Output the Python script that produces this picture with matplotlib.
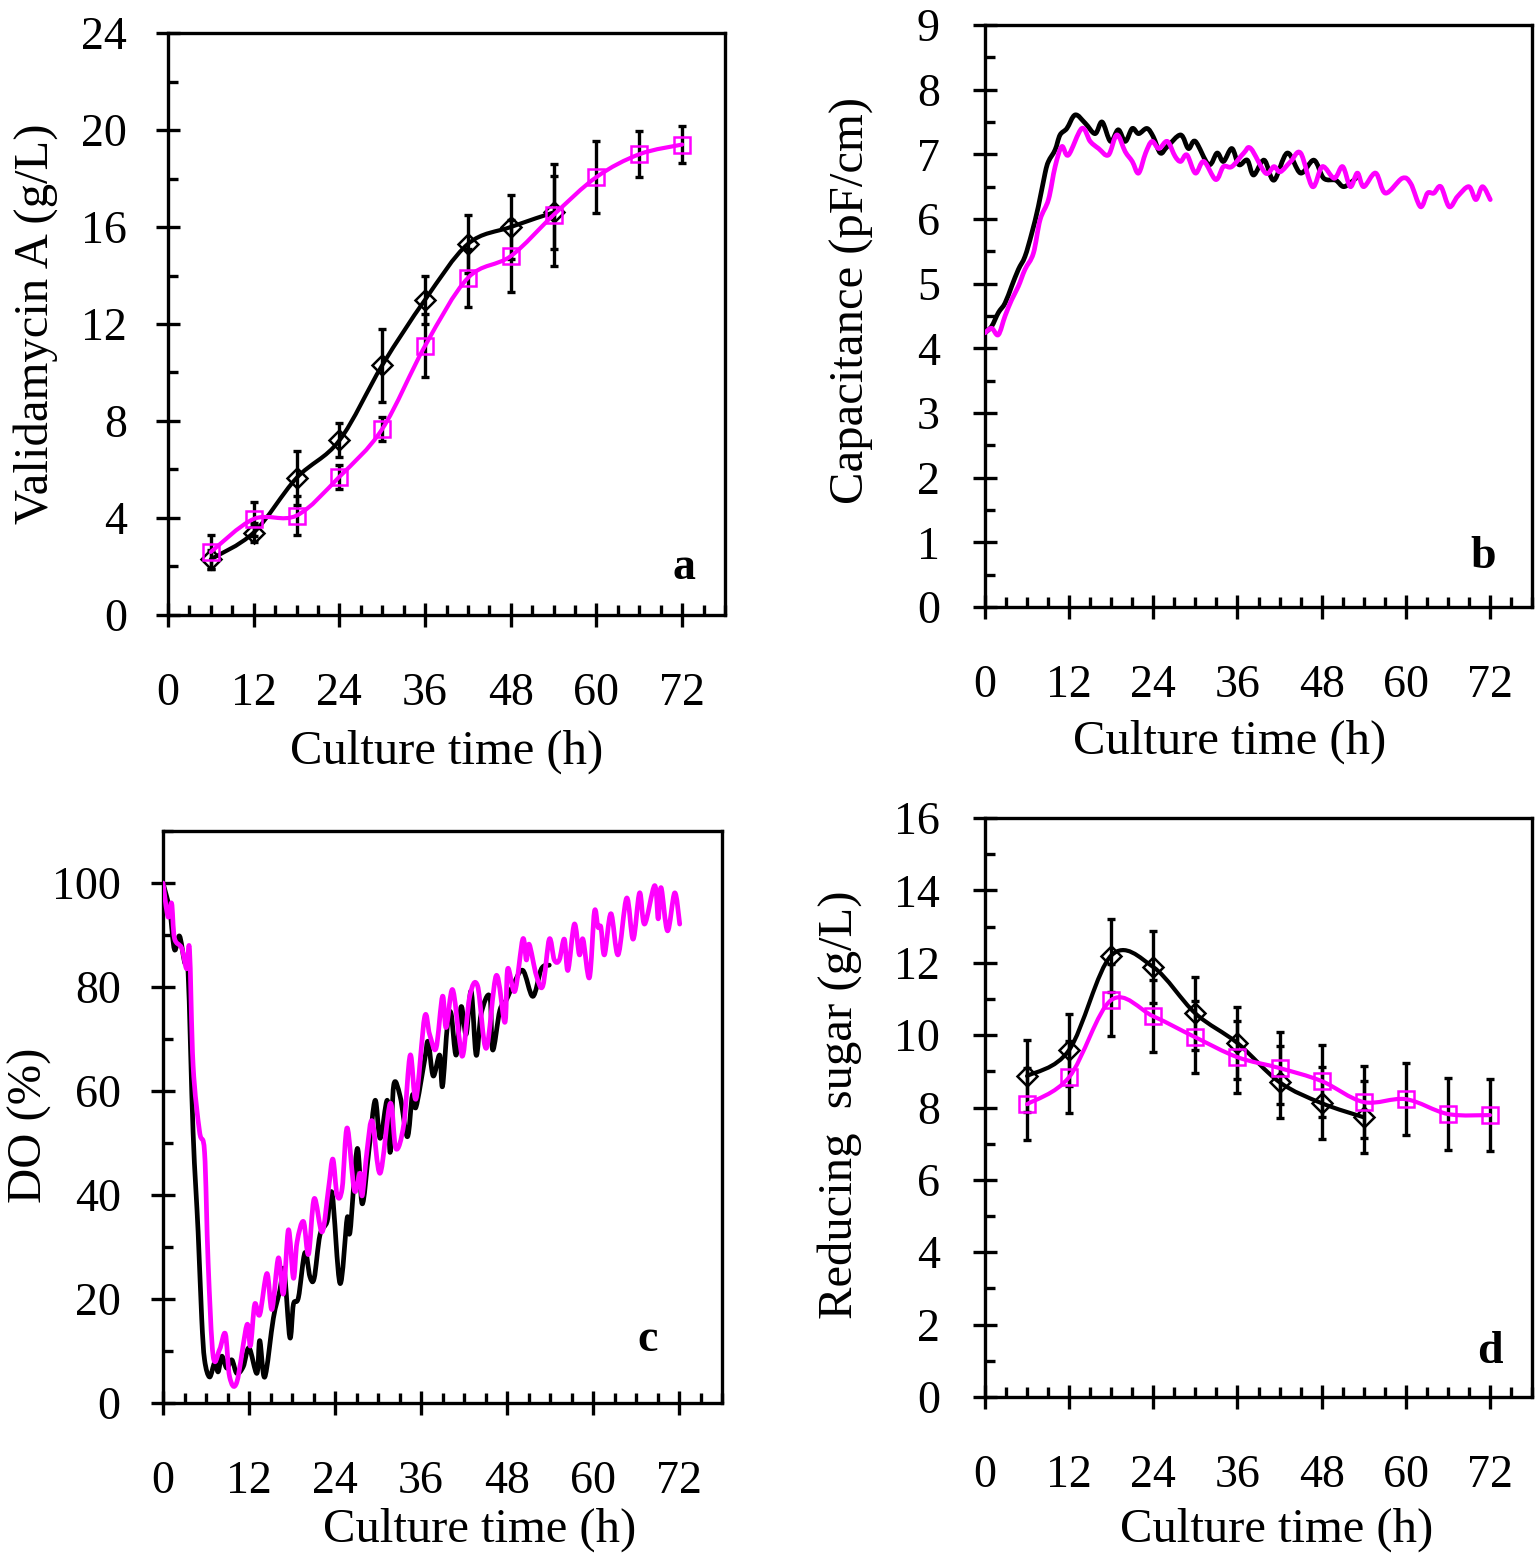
import numpy as np
import matplotlib
matplotlib.use("Agg")
import matplotlib.pyplot as plt
from matplotlib.path import Path
from matplotlib.patches import PathPatch
from matplotlib.ticker import MultipleLocator

plt.rcParams['font.family'] = ['Liberation Serif', 'DejaVu Serif']
plt.rcParams['mathtext.fontset'] = 'stix'

BLACK = '#000000'
MAGENTA = '#FF00FF'

# ---------------- Panel a: Validamycin A ----------------
a_t_black = [6, 12, 18, 24, 30, 36, 42, 48, 54]
a_black = [2.3, 3.4, 5.65, 7.2, 10.3, 13.0, 15.3, 16.0, 16.6]
a_black_err = [0.4, 0.4, 1.1, 0.7, 1.5, 1.0, 1.2, 1.3, 1.5]
a_t_mag = [6, 12, 18, 24, 30, 36, 42, 48, 54, 60, 66, 72]
a_mag = [2.6, 3.96, 4.1, 5.7, 7.67, 11.1, 13.9, 14.8, 16.5, 18.06, 19.0, 19.4]
a_mag_err = [0.7, 0.7, 0.8, 0.5, 0.5, 1.3, 1.2, 1.5, 2.1, 1.5, 0.95, 0.75]

# ---------------- Panel b: Capacitance ----------------
b_t_black = [0, 0.95, 1.9, 2.86, 3.8, 4.76, 5.7, 6.67, 7.6, 8.57, 9.05, 10.0, 10.7,
             11.67, 12.86, 14.3, 15.7, 16.7, 17.9, 19.0, 20.0, 21.0, 21.9, 23.1,
             24.0, 25.0, 26.0, 27.9, 29.0, 30.0, 31.9, 33.1, 34.0, 35.2, 36.2,
             37.4, 38.3, 39.8, 41.2, 43.1, 45.0, 46.9, 48.3, 50.0, 51.2, 52.9]
b_black = [4.24, 4.34, 4.55, 4.70, 4.96, 5.22, 5.42, 5.78, 6.19, 6.71, 6.89, 7.07, 7.30,
           7.40, 7.61, 7.48, 7.32, 7.50, 7.20, 7.38, 7.20, 7.40, 7.32, 7.40,
           7.27, 7.02, 7.12, 7.30, 7.09, 7.20, 6.84, 7.02, 6.89, 7.09, 6.84,
           6.91, 6.68, 6.91, 6.60, 7.02, 6.71, 6.91, 6.63, 6.60, 6.50, 6.63]
b_t_mag = [0, 0.95, 1.9, 2.86, 3.8, 4.76, 5.7, 6.9, 7.86, 9.05, 10.0, 10.95, 11.9,
           13.8, 15.0, 16.2, 17.6, 18.8, 20.0, 21.0, 21.9, 22.9, 23.8, 24.8, 26.0,
           27.1, 27.9, 28.8, 30.0, 31.2, 32.9, 34.0, 35.2, 36.9, 37.9, 40.0, 41.2,
           42.1, 43.6, 45.0, 46.7, 48.1, 49.8, 51.0, 52.1, 53.1, 54.0, 55.7, 57.1,
           59.5, 60.7, 62.1, 63.1, 64.0, 65.0, 66.2, 67.4, 69.0, 70.0, 70.95, 72.05]
b_mag = [4.24, 4.31, 4.21, 4.50, 4.75, 4.96, 5.22, 5.47, 5.99, 6.30, 6.81, 7.12, 6.99,
         7.40, 7.20, 7.09, 6.99, 7.30, 7.04, 6.89, 6.71, 7.02, 7.20, 7.09, 7.20,
         6.97, 6.89, 6.99, 6.71, 6.89, 6.61, 6.81, 6.81, 7.02, 7.09, 6.71, 6.81,
         6.73, 6.89, 7.02, 6.50, 6.81, 6.63, 6.81, 6.50, 6.71, 6.50, 6.71, 6.40,
         6.63, 6.55, 6.19, 6.40, 6.40, 6.50, 6.19, 6.35, 6.50, 6.30, 6.50, 6.30]

# ---------------- Panel c: DO ----------------
c_t_black = [0, 0.93, 1.6, 2.3, 3.0, 3.5, 4.2, 4.9, 5.4, 5.8, 6.5, 7.2, 7.7, 8.2, 8.9,
             9.6, 10.3, 11.2, 12.0, 13.1, 13.5, 14.2, 15.4, 16.3, 16.9, 17.7, 18.2,
             18.9, 19.8, 20.5, 21.1, 21.9, 22.9, 23.6, 24.7, 25.7, 26.1, 27.1, 27.8,
             28.7, 29.6, 30.3, 31.3, 31.7, 32.2, 33.1, 34.1, 34.8, 35.3, 36.5, 37.0,
             37.7, 38.6, 39.0, 39.7, 40.2, 40.9, 41.6, 42.3, 43.0, 43.7, 44.4, 45.6,
             46.0, 47.0, 47.9, 48.8, 50.2, 51.6, 52.8, 53.9]
c_black = [100, 94.8, 87.2, 89.8, 84.8, 82.8, 52.0, 32.9, 16.3, 8.3, 5.0, 7.7, 6.0, 9.0, 6.7,
           8.3, 5.7, 7.0, 10.6, 5.7, 12.0, 5.0, 16.3, 21.6, 25.6, 12.6, 19.0,
           20.3, 28.9, 24.3, 24.0, 32.3, 34.9, 40.3, 23.0, 35.6, 32.9, 48.9, 38.3,
           48.2, 58.2, 50.9, 58.2, 48.2, 61.2, 58.9, 51.2, 59.2, 56.9, 65.9, 69.5,
           62.9, 66.9, 60.9, 72.9, 74.9, 66.9, 76.2, 70.9, 79.2, 66.9, 74.9, 78.2,
           67.9, 75.5, 77.5, 80.2, 83.2, 78.2, 83.5, 84.2]
c_t_mag = [0, 0.7, 1.2, 1.6, 2.6, 3.3, 3.7, 4.2, 5.1, 5.8, 6.3, 7.0, 7.9, 8.7, 9.3,
           10.3, 11.7, 12.2, 12.8, 13.5, 14.5, 15.2, 16.1, 16.8, 17.5, 18.2, 18.7,
           19.6, 20.3, 21.1, 22.2, 23.1, 23.7, 24.3, 25.0, 25.7, 26.7, 27.5, 27.8,
           28.5, 29.2, 30.3, 31.7, 32.5, 33.6, 34.5, 35.3, 36.5, 37.2, 38.1, 39.0,
           39.5, 40.4, 41.4, 41.9, 42.8, 43.9, 45.1, 46.5, 47.7, 48.1, 49.1, 50.2,
           50.7, 51.1, 52.1, 53.0, 53.9, 54.6, 55.3, 56.0, 56.5, 57.4, 58.1, 58.6,
           59.5, 60.2, 60.7, 61.1, 61.6, 62.5, 63.5, 64.7, 65.6, 66.5, 67.2, 68.6,
           69.1, 69.5, 70.4, 71.4, 72.1]
c_mag = [100, 93.5, 96.1, 89.4, 87.5, 83.5, 87.2, 64.9, 52.2, 48.2, 26.9, 9.0, 10.3, 13.3, 5.0,
         4.0, 15.0, 11.0, 19.0, 17.0, 24.9, 18.0, 27.9, 21.0, 33.3, 24.0, 30.9,
         34.9, 28.6, 39.3, 32.9, 41.3, 46.9, 39.9, 41.3, 52.9, 40.9, 44.2, 39.9,
         48.9, 54.2, 44.2, 57.6, 48.9, 53.6, 66.9, 58.5, 74.2, 70.9, 68.2, 78.2,
         72.2, 79.5, 69.5, 67.2, 78.2, 80.2, 68.2, 82.2, 73.2, 83.5, 79.2, 89.2,
         85.2, 88.2, 82.2, 80.2, 89.2, 85.2, 85.2, 89.2, 83.2, 92.1, 86.2, 89.2,
         81.8, 94.5, 91.5, 91.5, 86.2, 94.1, 86.2, 97.1, 89.2, 98.1, 92.1, 99.5,
         93.1, 99.1, 90.8, 98.1, 92.1]

# ---------------- Panel d: Reducing sugar ----------------
d_t_black = [6, 12, 18, 24, 30, 36, 42, 48, 54]
d_black = [8.87, 9.59, 12.2, 11.88, 10.6, 9.78, 8.7, 8.12, 7.73]
d_black_err = [1.0, 1.0, 1.0, 1.0, 1.0, 1.0, 1.0, 1.0, 1.0]
d_t_mag = [6, 12, 18, 24, 30, 36, 42, 48, 54, 60, 66, 72]
d_mag = [8.09, 8.84, 10.97, 10.52, 9.94, 9.39, 9.09, 8.73, 8.15, 8.23, 7.82, 7.79]
d_mag_err = [1.0, 1.0, 1.0, 1.0, 1.0, 1.0, 1.0, 1.0, 1.0, 1.0, 1.0, 1.0]

FS_TICK = 33
FS_LABEL = 35
FS_PANEL = 33


def smooth_path(x, y):
    """Cubic Bezier (Excel-style smoothed line) through the data points."""
    x = np.asarray(x, float)
    y = np.asarray(y, float)
    n = len(x)
    verts = [(x[0], y[0])]
    codes = [Path.MOVETO]
    for i in range(n - 1):
        i0 = max(i - 1, 0)
        i3 = min(i + 2, n - 1)
        c1 = (x[i] + (x[i + 1] - x[i0]) / 6.0, y[i] + (y[i + 1] - y[i0]) / 6.0)
        c2 = (x[i + 1] - (x[i3] - x[i]) / 6.0, y[i + 1] - (y[i3] - y[i]) / 6.0)
        verts += [c1, c2, (x[i + 1], y[i + 1])]
        codes += [Path.CURVE4] * 3
    return Path(verts, codes)


def draw_smooth(ax, x, y, color, lw=3.0, z=2):
    patch = PathPatch(smooth_path(x, y), facecolor='none', edgecolor=color,
                      lw=lw, zorder=z, capstyle='round', joinstyle='round')
    ax.add_patch(patch)


def style_axes(ax, ymax, ymajor, yminor, ypad, xpad=33):
    ax.set_xlim(0, 78)
    ax.set_ylim(0, ymax)
    ax.xaxis.set_major_locator(MultipleLocator(12))
    ax.xaxis.set_minor_locator(MultipleLocator(3))
    ax.yaxis.set_major_locator(MultipleLocator(ymajor))
    ax.yaxis.set_minor_locator(MultipleLocator(yminor))
    for s in ax.spines.values():
        s.set_linewidth(2.4)
    ax.tick_params(axis='both', which='major', direction='inout', length=17,
                   width=2.4, labelsize=FS_TICK, top=False, right=False)
    ax.tick_params(axis='both', which='minor', direction='in', length=7,
                   width=2.4, top=False, right=False)
    ax.tick_params(axis='x', which='major', pad=xpad)
    ax.tick_params(axis='y', which='major', pad=ypad)


W, H = 1536, 1562
fig = plt.figure(figsize=(W / 100, H / 100), dpi=100)


def add_axes(left, right, top, bottom):
    return fig.add_axes([left / W, 1 - bottom / H, (right - left) / W, (bottom - top) / H])


axA = add_axes(168, 725, 33, 615)
axB = add_axes(985, 1532, 25, 607)
axC = add_axes(163, 722, 831, 1403)
axD = add_axes(985, 1532, 818, 1397)

ERR_KW = dict(fmt='none', ecolor=BLACK, elinewidth=2.4, capsize=3, capthick=2.4, zorder=3)

# ---- a ----
style_axes(axA, 24, 4, 2, ypad=21)
axA.errorbar(a_t_black, a_black, yerr=a_black_err, **ERR_KW)
axA.errorbar(a_t_mag, a_mag, yerr=a_mag_err, **ERR_KW)
draw_smooth(axA, a_t_black, a_black, BLACK, z=4)
axA.plot(a_t_black, a_black, linestyle='none', marker='D', ms=10, mfc='none',
         mec=BLACK, mew=1.8, zorder=5)
draw_smooth(axA, a_t_mag, a_mag, MAGENTA, z=6)
axA.plot(a_t_mag, a_mag, linestyle='none', marker='s', ms=11.5, mfc='none',
         mec=MAGENTA, mew=1.8, zorder=7)
axA.set_ylabel('Validamycin A (g/L)', fontsize=FS_LABEL)
axA.set_xlabel('Culture time (h)', fontsize=FS_LABEL)
axA.yaxis.set_label_coords((36 - 168) / 557, 0.5)
axA.xaxis.set_label_coords(0.5, -(752 - 615) / 582)
axA.xaxis.label.set_va('center')
axA.yaxis.label.set_va('center')
axA.text(0.926, 0.081, 'a', transform=axA.transAxes, fontsize=FS_PANEL,
         fontweight='bold', ha='center', va='center')

# ---- b ----
style_axes(axB, 9, 1, 0.5, ypad=24)
draw_smooth(axB, b_t_black, b_black, BLACK, lw=3.4, z=3)
draw_smooth(axB, b_t_mag, b_mag, MAGENTA, lw=3.4, z=4)
axB.set_ylabel('Capacitance (pF/cm)', fontsize=FS_LABEL)
axB.set_xlabel('Culture time (h)', fontsize=FS_LABEL)
axB.yaxis.set_label_coords((852 - 985) / 547, (607 - 300) / 582)
axB.xaxis.set_label_coords((1230 - 985) / 547, -(742 - 607) / 582)
axB.xaxis.label.set_va('center')
axB.yaxis.label.set_va('center')
axB.text(0.910, 0.086, 'b', transform=axB.transAxes, fontsize=FS_PANEL,
         fontweight='bold', ha='center', va='center')

# ---- c ----
style_axes(axC, 110, 20, 10, ypad=22)
draw_smooth(axC, c_t_black, c_black, BLACK, lw=3.4, z=3)
draw_smooth(axC, c_t_mag, c_mag, MAGENTA, lw=3.4, z=4)
axC.set_yticks([0, 20, 40, 60, 80, 100])
axC.set_ylabel('DO (%)', fontsize=FS_LABEL)
axC.set_xlabel('Culture time (h)', fontsize=FS_LABEL)
axC.yaxis.set_label_coords((30 - 163) / 559, (1403 - 1125) / 572)
axC.xaxis.set_label_coords((480 - 163) / 559, -(1530 - 1403) / 572)
axC.xaxis.label.set_va('center')
axC.yaxis.label.set_va('center')
axC.text(0.866, 0.110, 'c', transform=axC.transAxes, fontsize=FS_PANEL,
         fontweight='bold', ha='center', va='center')

# ---- d ----
style_axes(axD, 16, 2, 1, ypad=24)
axD.errorbar(d_t_black, d_black, yerr=d_black_err, **ERR_KW)
axD.errorbar(d_t_mag, d_mag, yerr=d_mag_err, **ERR_KW)
draw_smooth(axD, d_t_black, d_black, BLACK, z=4)
axD.plot(d_t_black, d_black, linestyle='none', marker='D', ms=10, mfc='none',
         mec=BLACK, mew=1.8, zorder=5)
draw_smooth(axD, d_t_mag, d_mag, MAGENTA, z=6)
axD.plot(d_t_mag, d_mag, linestyle='none', marker='s', ms=11.5, mfc='none',
         mec=MAGENTA, mew=1.8, zorder=7)
axD.set_ylabel('Reducing  sugar (g/L)', fontsize=FS_LABEL)
axD.set_xlabel('Culture time (h)', fontsize=FS_LABEL)
axD.yaxis.set_label_coords((840 - 985) / 547, (1397 - 1105) / 579)
axD.xaxis.set_label_coords((1277 - 985) / 547, -(1530 - 1397) / 579)
axD.xaxis.label.set_va('center')
axD.yaxis.label.set_va('center')
axD.text(0.923, 0.078, 'd', transform=axD.transAxes, fontsize=FS_PANEL,
         fontweight='bold', ha='center', va='center')

fig.savefig('out.png', dpi=100)
